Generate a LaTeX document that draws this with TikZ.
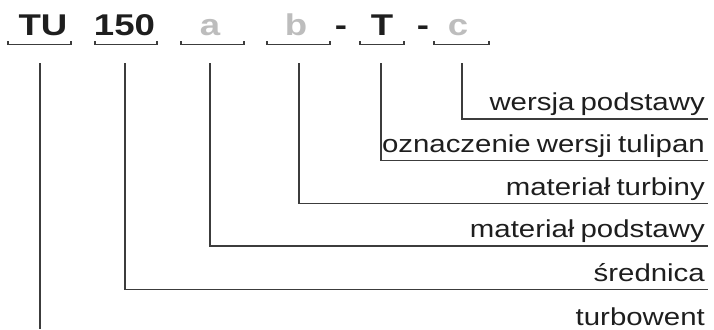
\documentclass[tikz,border=0pt]{standalone}
\usepackage{fontspec}
\setmainfont{Liberation Sans}
\newfontfamily\codefont{Liberation Sans}[FakeStretch=1.22]
\newfontfamily\lblfont{Liberation Sans}[FakeStretch=1.2,WordSpace=0.75]
\definecolor{darkink}{HTML}{1E1E1E}
\definecolor{lineink}{HTML}{3C3C3C}
\definecolor{paleink}{HTML}{BDBDBD}

\begin{document}
\begin{tikzpicture}[x=1pt,y=-1pt,
  code/.style={anchor=base,inner sep=0pt,font=\codefont\bfseries\fontsize{30}{30}\selectfont},
  lbl/.style={anchor=base east,inner sep=0pt,text=darkink,font=\lblfont\fontsize{24.5}{25}\selectfont},
  lead/.style={draw=lineink,line width=1.1pt}]

\useasboundingbox (0,0) rectangle (714,329);

% code letters on top
\foreach \n/\x/\txt/\col in {tu/43/TU/darkink,dia/124.5/150/darkink,ma/210/a/paleink,mb/296/b/paleink,ver/382/T/darkink,mc/458/c/paleink}
{
    \node[code,text=\col] (\n) at (\x,36) {\txt};
}
\node[code,text=darkink] (d1) at (341,36) {-};
\node[code,text=darkink] (d2) at (423,36) {-};

% underlines with small ticks
\foreach \xa/\xb in {8/71,95/157,181/244,267/330,360/404,434/489}
{
    \draw[lead] (\xa,41.5) -- (\xa,44.5) -- (\xb,44.5) -- (\xb,41.5);
}

% leaders and labels
\foreach \i/\x/\y/\txt in {1/462/119/wersja podstawy,2/381/160.7/oznaczenie wersji tulipan,3/299/203.5/materiał turbiny,4/210/246/materiał podstawy,5/125/289.5/średnica}
{
    \coordinate (s\i) at (\x,63);
    \coordinate (e\i) at (708,\y);
    \draw[lead] (s\i) |- (e\i);
    \node[lbl] (l\i) at (705,\fpeval{\y-8.3}) {\txt};
}

\coordinate (s6) at (40,63);
\coordinate (e6) at (40,329);
\draw[lead] (s6) -- (e6);
\node[lbl] (l6) at (705,325) {turbowent};

\end{tikzpicture}
\end{document}
